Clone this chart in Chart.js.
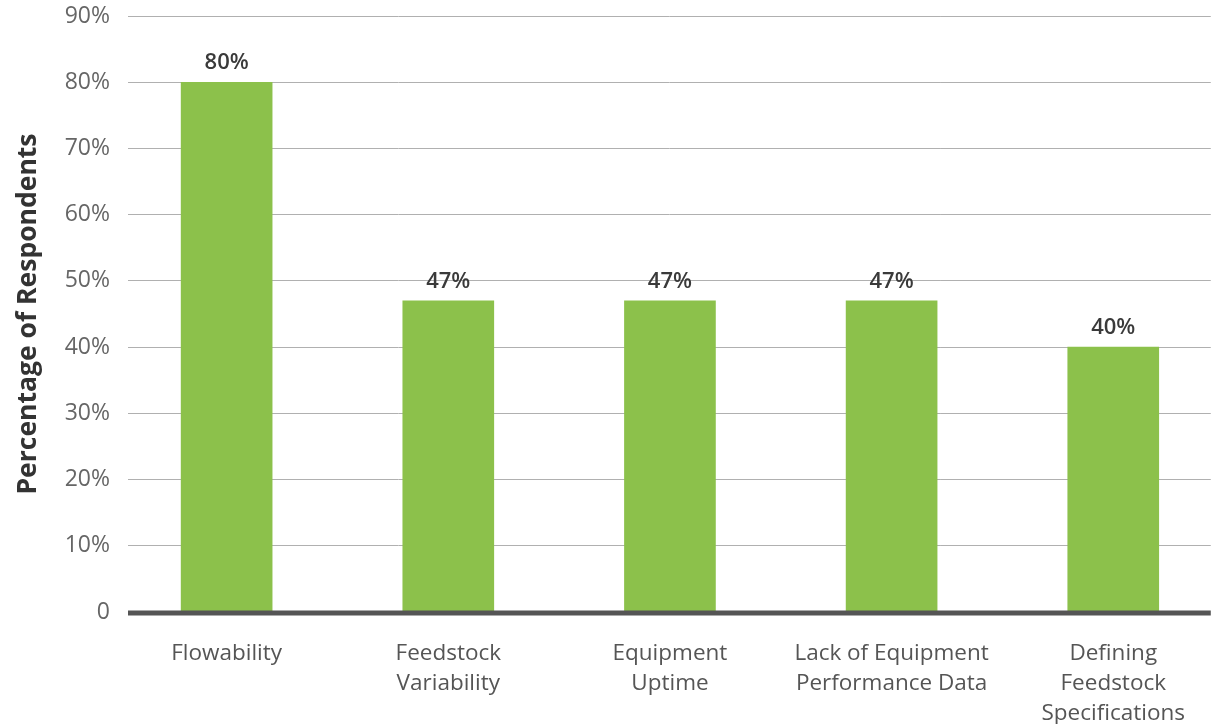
<!DOCTYPE html>
<html>
<head>
<meta charset="utf-8">
<title>Feedstock challenges</title>
<script src="https://cdn.jsdelivr.net/npm/chart.js@4"></script>
<style>
  html, body { margin: 0; padding: 0; background: #fff; }
  #wrap { width: 1212px; height: 724px; position: relative; }
</style>
</head>
<body>
<div id="wrap"><canvas id="chart"></canvas></div>
<script>
// categories (multi-line labels) and share of respondents, in percent
const categories = [
    ['Flowability'],
    ['Feedstock', 'Variability'],
    ['Equipment', 'Uptime'],
    ['Lack of Equipment', 'Performance Data'],
    ['Defining', 'Feedstock', 'Specifications']
];
const shares = [80, 47, 47, 47, 40];
const yMax = 90;
const yStep = 10;

const FONT = '"Open Sans", "DejaVu Sans", sans-serif';
const GREEN = '#8cc14b';

// percent labels over each bar
const valueLabels = {
    id: 'valueLabels',
    afterDatasetsDraw(chart) {
        const ctx = chart.ctx;
        const meta = chart.getDatasetMeta(0);
        ctx.save();
        ctx.font = '600 22px ' + FONT;
        ctx.fillStyle = '#3a3a3a';
        ctx.textAlign = 'center';
        ctx.textBaseline = 'alphabetic';
        meta.data.forEach((bar, i) => {
            ctx.fillText(shares[i] + '%', bar.x, bar.y - 13);
        });
        ctx.restore();
    }
};

// heavy dark line along zero, on top of the bars
const zeroLine = {
    id: 'zeroLine',
    afterDatasetsDraw(chart) {
        const { ctx, chartArea } = chart;
        const y = chart.scales.y.getPixelForValue(0) + 1;
        ctx.save();
        ctx.strokeStyle = '#555555';
        ctx.lineWidth = 5;
        ctx.beginPath();
        ctx.moveTo(chartArea.left, y);
        ctx.lineTo(chartArea.right, y);
        ctx.stroke();
        ctx.restore();
    }
};

document.addEventListener('DOMContentLoaded', () => {
    const ctx = document.getElementById('chart').getContext('2d');

    new Chart(ctx, {
        type: 'bar',
        data: {
            datasets: [{
                data: shares.map((v, i) => ({ x: i, y: v })),
                backgroundColor: GREEN,
                borderWidth: 0,
                barThickness: 91
            }]
        },
        options: {
            responsive: true,
            maintainAspectRatio: false,
            animation: false,
            layout: { padding: 0 },
            plugins: {
                legend: { display: false },
                tooltip: { enabled: false }
            },
            scales: {
                x: {
                    type: 'linear',
                    offset: false,
                    min: -0.445,
                    max: 4.44,
                    afterBuildTicks: scale => {
                        scale.ticks = categories.map((c, i) => ({ value: i }));
                    },
                    afterFit: scale => { scale.height = 112; },
                    grid: { display: false, drawTicks: false, offset: false },
                    border: { display: false },
                    ticks: {
                        autoSkip: false,
                        maxRotation: 0,
                        padding: 27,
                        color: '#555555',
                        font: { family: FONT, size: 22.5, lineHeight: 1.33 },
                        callback: v => categories[v] || ''
                    }
                },
                y: {
                    min: 0,
                    max: yMax,
                    afterFit: scale => {
                        scale.width = 128;
                        scale.paddingTop = 16;
                        scale.paddingBottom = 0;
                    },
                    grid: {
                        drawTicks: false,
                        color: ctx => ctx.tick.value === 0 ? 'rgba(0,0,0,0)' : '#b0b0b0',
                        lineWidth: 1
                    },
                    border: { display: false },
                    ticks: {
                        stepSize: yStep,
                        padding: 18,
                        color: '#666666',
                        font: { family: FONT, size: 23 },
                        callback: v => v === 0 ? '0' : v + '%'
                    },
                    title: {
                        display: true,
                        text: 'Percentage of Respondents',
                        color: '#333333',
                        padding: { top: 13, bottom: 0 },
                        font: { family: FONT, size: 26.5, weight: 'bold' }
                    }
                }
            }
        },
        plugins: [valueLabels, zeroLine]
    });
});
</script>
</body>
</html>
